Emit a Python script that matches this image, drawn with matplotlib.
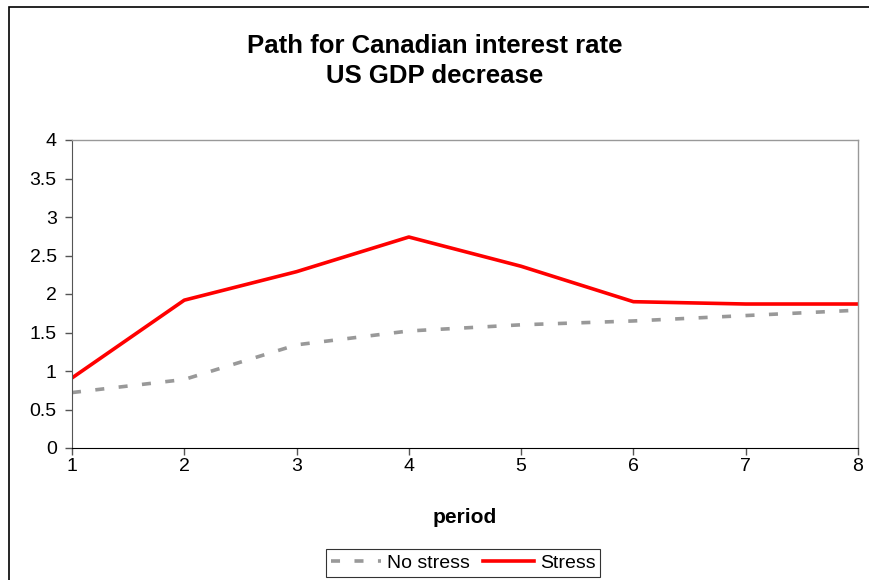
import matplotlib.pyplot as plt
from matplotlib.patches import Rectangle

plt.rcParams['font.family'] = ['Liberation Sans', 'DejaVu Sans']

periods = [1, 2, 3, 4, 5, 6, 7, 8]
no_stress = [0.72, 0.89, 1.34, 1.52, 1.60, 1.65, 1.72, 1.79]
stress = [0.91, 1.92, 2.29, 2.74, 2.36, 1.90, 1.87, 1.87]
y_ticks = [0, 0.5, 1, 1.5, 2, 2.5, 3, 3.5, 4]
y_labels = ['0', '0.5', '1', '1.5', '2', '2.5', '3', '3.5', '4']

fig = plt.figure(figsize=(8.7, 5.8), dpi=100)
# outer chart frame (cut off at right/bottom like the original)
fig.patches.append(Rectangle((9 / 870, -0.05), 1.2, 1 - 7 / 580 + 0.05,
                             transform=fig.transFigure, fill=False,
                             edgecolor='black', linewidth=1.2))

ax = fig.add_axes([72 / 870, 1 - 448 / 580, (858 - 72) / 870, (448 - 140) / 580])

ax.plot(periods, no_stress, color='#999999', linewidth=2.6, dashes=(2.5, 4),
        label='No stress')
ax.plot(periods, stress, color='#ff0000', linewidth=2.6, label='Stress')

ax.set_xlim(1, 8)
ax.set_ylim(0, 4)
ax.set_xticks(periods)
ax.set_yticks(y_ticks)
ax.set_yticklabels(y_labels)
ax.tick_params(labelsize=14, length=5, width=1, direction='out',
               colors='#555555', labelcolor='black')
ax.tick_params(axis='y', pad=6)
ax.tick_params(axis='x', pad=2)

for side in ['top', 'right']:
    ax.spines[side].set_color('#999999')
    ax.spines[side].set_linewidth(1)
ax.spines['left'].set_color('#555555')
ax.spines['bottom'].set_color('black')

ax.set_xlabel('period', fontsize=15, fontweight='bold', labelpad=24)

fig.text(0.5, 1 - 61 / 580, 'Path for Canadian interest rate\nUS GDP decrease',
         ha='center', va='center', fontsize=18.5, fontweight='bold',
         linespacing=1.35)

leg = fig.legend(loc='center', bbox_to_anchor=(463 / 870, 1 - 563 / 580),
                 ncol=2, fontsize=14, frameon=True, fancybox=False,
                 edgecolor='black', handlelength=2.6, handletextpad=0.3,
                 columnspacing=0.7, borderpad=0.25, borderaxespad=0)
leg.get_frame().set_linewidth(0.8)

fig.savefig('out.png', dpi=100)
